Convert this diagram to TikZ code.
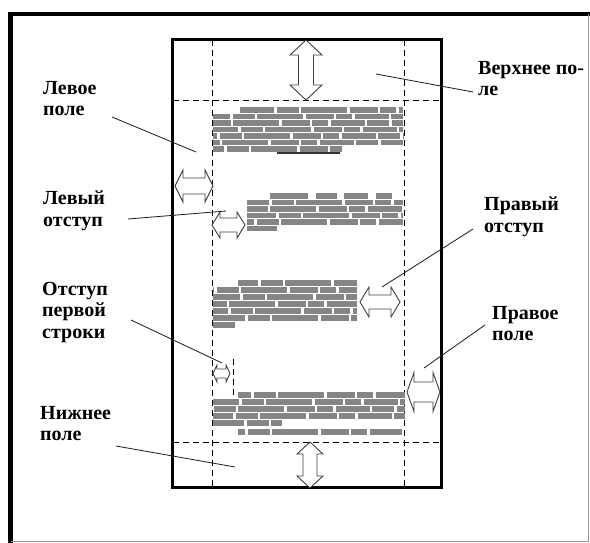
\documentclass[tikz,border=0pt]{standalone}
\usepackage{fontspec}
\setmainfont{Liberation Serif}
\usetikzlibrary{calc}
\definecolor{cInk}{HTML}{1A1A1A}
\definecolor{cText}{HTML}{858585}
\definecolor{cEdge}{HTML}{9A9A9A}
\tikzset{
  frame/.style={draw=black, line width=4.5pt},
  page/.style={draw=black, line width=3pt},
  guide/.style={draw=black, line width=0.9pt, dash pattern=on 6pt off 4pt},
  hollow/.style={draw=black!75, line width=0.9pt, fill=white, line join=miter},
  txt/.style={draw=cText, line width=5.5pt,
    dash pattern=on 34pt off 2.5pt on 22pt off 2.5pt on 46pt off 2.5pt on 28pt off 2.5pt on 16pt off 2.5pt},
  word/.style={draw=cText, line width=5.5pt},
  tag/.style={anchor=north west, inner sep=0pt, align=left, font=\fontsize{20}{21.5}\selectfont\bfseries},
  leader/.style={draw=cInk, line width=0.8pt},
  pics/dblarrow/.style n args={4}{code={
    \draw[hollow] (-#1/2,0) -- (-#1/2+#4,-#2/2) -- (-#1/2+#4,-#3/2) -- (#1/2-#4,-#3/2)
      -- (#1/2-#4,-#2/2) -- (#1/2,0) -- (#1/2-#4,#2/2) -- (#1/2-#4,#3/2)
      -- (-#1/2+#4,#3/2) -- (-#1/2+#4,#2/2) -- cycle;
  }},
}
\begin{document}
\begin{tikzpicture}[x=1pt, y=-1pt]
\useasboundingbox[fill=white] (0,0) rectangle (590,543);

% frames
\draw[frame] (10.5,543) -- (10.5,14) -- (590,14);
\draw[cEdge, line width=1pt] (588.5,14) -- (588.5,541.5) -- (10.5,541.5);
\draw[page] (172.5,40) rectangle (441.5,487.5);

% margins
\draw[guide] (212,40) -- (212,487.5);
\draw[guide] (404,40) -- (404,487.5);
\draw[guide] (172.5,100) -- (441.5,100);
\draw[guide] (172.5,442) -- (441.5,442);
\draw[guide] (233,359) -- (233,397);

% paragraphs
\foreach \y/\a/\b/\p in {110/240/403/0, 116.5/213/403/17, 123/213/403/41, 129.5/213/403/9,
    136/213/403/30, 142.5/213/403/52, 149/213/342/23,
    202.5/247/403/12, 209/247/403/38, 215.5/247/403/5, 222/247/403/27, 228.5/247/277/0,
    283/238/357/14, 290/213/357/33, 297/213/357/7, 304/213/357/45, 311/213/357/19,
    318/213/357/2, 325/213/235/0,
    395/238/405/21, 402/213/405/8, 409/213/405/36, 416/213/405/14, 423/213/282/3,
    432/238/402/27}
  \draw[txt, dash phase=\p] (\a,\y) -- (\b,\y);
\foreach \a/\b in {270/308, 316/337, 344/368, 376/392}
  \draw[word] (\a,196) -- (\b,196);
\draw[black!80, line width=2pt] (277,153.5) -- (340,153.5);

% arrows
\pic[rotate=90] (aTop) at (306,70) {dblarrow={60}{32}{15}{15}};
\pic[rotate=90] (aBot) at (310,465) {dblarrow={46}{26}{14}{12}};
\pic (aLm) at (194,186) {dblarrow={38}{32}{16}{8}};
\pic (aLi) at (228.5,225) {dblarrow={33}{26}{14}{8}};
\pic (aRi) at (380,302) {dblarrow={40}{30}{14}{9}};
\pic (aRm) at (423.5,392) {dblarrow={33}{39}{20}{7}};
\pic (aFi) at (221.5,373.5) {dblarrow={17}{17}{9}{4}};

% labels
\node[tag] (lPole) at (43,81) {Левое\\поле};
\node[tag] (lOtst) at (43,191) {Левый\\отступ};
\node[tag] (fOtst) at (42,282) {Отступ\\первой\\строки};
\node[tag] (bPole) at (40,406) {Нижнее\\поле};
\node[tag] (tPole) at (478,61) {Верхнее по-\\ле};
\node[tag] (rOtst) at (484,197) {Правый\\отступ};
\node[tag] (rPole) at (492,306) {Правое\\поле};

\coordinate (tgLPole) at (196,152);
\coordinate (tgLOtst) at (226,211);
\coordinate (tgFOtst) at (222,363);
\coordinate (tgBPole) at (235,467);
\coordinate (tgTPole) at (376,74);
\coordinate (tgROtst) at (382,287);
\coordinate (tgRPole) at (424,368);

\draw[leader] (lPole.north west) ++(69,36) -- (tgLPole);
\draw[leader] (lOtst.north west) ++(85,28) -- (tgLOtst);
\draw[leader] (fOtst.north west) ++(89,38) -- (tgFOtst);
\draw[leader] (bPole.north west) ++(76,40) -- (tgBPole);
\draw[leader] (tPole.north west) ++(-5,31) -- (tgTPole);
\draw[leader] (rOtst.north west) ++(-11,32) -- (tgROtst);
\draw[leader] (rPole.north west) ++(-7,19) -- (tgRPole);
\end{tikzpicture}
\end{document}
